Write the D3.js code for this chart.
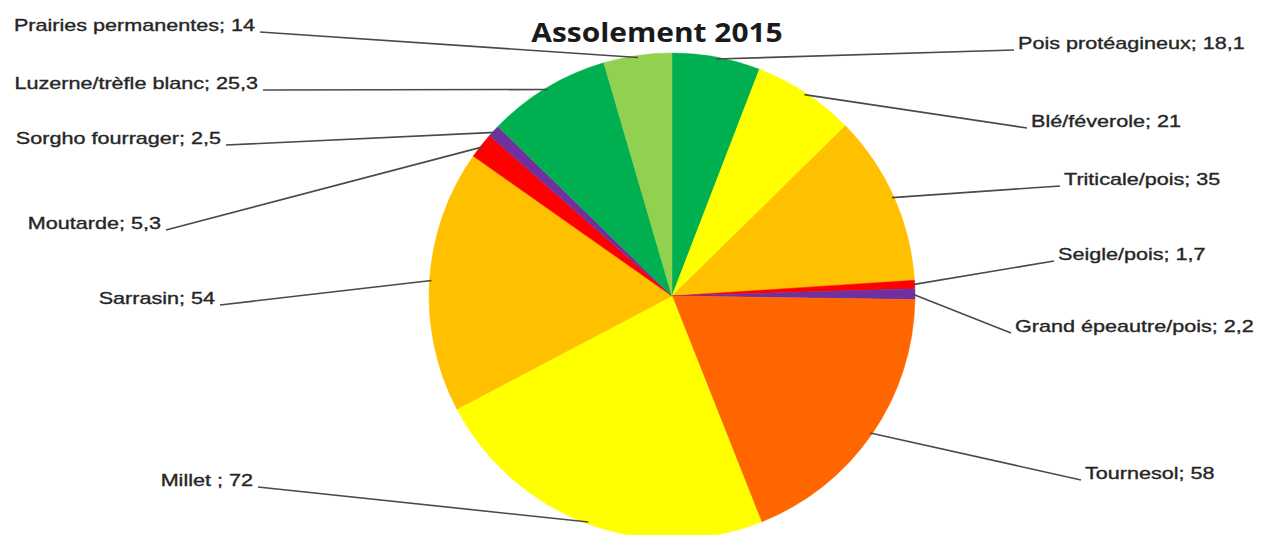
<!DOCTYPE html>
<html>
<head>
<meta charset="utf-8">
<script src="https://cdn.jsdelivr.net/npm/d3@7"></script>
<style>
  body { margin: 0; background: #fff; }
  svg { display: block; }
</style>
</head>
<body>
<div id="chart"></div>
<script>
// crop areas
var categories = ["Pois protéagineux", "Blé/féverole", "Triticale/pois", "Seigle/pois",
    "Grand épeautre/pois", "Tournesol", "Millet ", "Sarrasin", "Moutarde",
    "Sorgho fourrager", "Luzerne/trèfle blanc", "Prairies permanentes"];
var values = [18.1, 21, 35, 1.7, 2.2, 58, 72, 54, 5.3, 2.5, 25.3, 14];
var colors = ["#00b050", "#ffff00", "#ffc000", "#ff0000", "#7030a0", "#ff6600",
    "#ffff00", "#ffc000", "#ff0000", "#7030a0", "#00b050", "#92d050"];

// where each label sits (outer end of its leader line), and which side
var labelAnchors = [[1014, 50, "start"], [1027, 128, "start"], [1060, 186, "start"],
    [1054, 261, "start"], [1011, 333, "start"], [1081, 480, "start"],
    [258, 487, "end"], [220, 305, "end"], [166, 230, "end"],
    [226, 145, "end"], [263, 90, "end"], [260, 32, "end"]];

var W = 1267, H = 535;
var cx = 672, cy = 296, R = 243;
// the source picture is stretched sideways, so the text is too
var stretch = 1.27;

var svg = d3.select("#chart").append("svg")
    .attr("width", W)
    .attr("height", H);

svg.append("rect").attr("width", W).attr("height", H).attr("fill", "#fff");

var pie = d3.pie().sort(null).value(function(d){ return d; });
var arcs = pie(values);
var arc = d3.arc().innerRadius(0).outerRadius(R);
var edge = d3.arc().innerRadius(R - 2).outerRadius(R - 2);

var g = svg.append("g").attr("transform", "translate(" + cx + "," + cy + ")");

g.selectAll("path")
    .data(arcs)
    .enter()
    .append("path")
    .attr("d", arc)
    .attr("fill", function(d, i){ return colors[i]; })
    .attr("stroke", function(d, i){ return colors[i]; })
    .attr("stroke-width", 0.5);

// leader lines
svg.selectAll("line.leader")
    .data(arcs)
    .enter()
    .append("line")
    .attr("class", "leader")
    .attr("x1", function(d, i){ return labelAnchors[i][0]; })
    .attr("y1", function(d, i){ return labelAnchors[i][1]; })
    .attr("x2", function(d){ return cx + edge.centroid(d)[0]; })
    .attr("y2", function(d){ return cy + edge.centroid(d)[1]; })
    .attr("stroke", "#4a4a4a")
    .attr("stroke-width", 1.6);

// labels
svg.selectAll("text.lbl")
    .data(arcs)
    .enter()
    .append("text")
    .attr("class", "lbl")
    .attr("transform", function(d, i){
        var a = labelAnchors[i];
        var x = a[2] == "start" ? a[0] + 4 : a[0] - 5;
        return "translate(" + x + "," + (a[1] - 1) + ") scale(" + stretch + ",1)";
    })
    .attr("text-anchor", function(d, i){ return labelAnchors[i][2]; })
    .attr("font-family", "Liberation Sans, Arial, sans-serif")
    .attr("font-size", "17px")
    .attr("fill", "#262626")
    .attr("stroke", "#262626")
    .attr("stroke-width", 0.35)
    .text(function(d, i){
        return categories[i] + "; " + String(values[i]).replace(".", ",");
    });

// title
svg.append("text")
    .attr("transform", "translate(657,42) scale(1.15,1)")
    .attr("text-anchor", "middle")
    .attr("font-family", "Open Sans, sans-serif")
    .attr("font-weight", "bold")
    .attr("font-size", "26px")
    .attr("fill", "#1a1a1a")
    .text("Assolement 2015");
</script>
</body>
</html>
